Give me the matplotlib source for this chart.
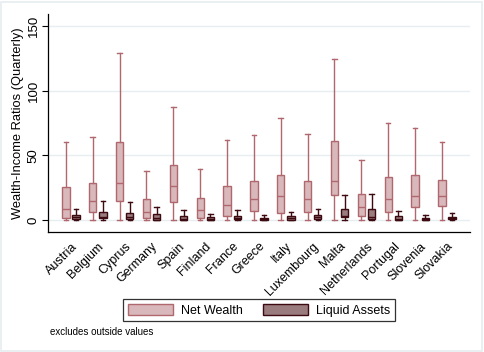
import matplotlib.pyplot as plt
from matplotlib.patches import Patch, Rectangle
import numpy as np

countries = ['Austria', 'Belgium', 'Cyprus', 'Germany', 'Spain', 'Finland', 'France', 'Greece',
             'Italy', 'Luxembourg', 'Malta', 'Netherlands', 'Portugal', 'Slovenia', 'Slovakia']

# Net wealth: lower whisker, q1, median, q3, upper whisker
nw_lo = [0, 0, 0, 0, 0, 0, 0, 0, 0, 0, 0, 0, 0, 0, 0]
nw_q1 = [1.8, 5.9, 14.5, 1.8, 13.7, 1.8, 2.8, 6.7, 5.2, 5.9, 19.1, 3.4, 5.9, 9.8, 11.1]
nw_med = [8.3, 14.5, 28.4, 5.9, 26.1, 7.5, 11.4, 16.0, 18.3, 16.0, 30.0, 9.8, 16.0, 18.3, 18.3]
nw_q3 = [25.3, 28.4, 60.2, 16.0, 42.3, 16.8, 26.1, 30.0, 34.6, 30.0, 60.9, 19.9, 33.0, 34.6, 30.7]
nw_hi = [60.2, 64.3, 129.4, 37.7, 87.3, 39.2, 61.7, 65.6, 78.7, 66.4, 124.4, 46.2, 74.9, 71.0, 60.2]

# Liquid assets
la_lo = [0, 0, 0, 0, 0, 0, 0, 0, 0, 0, 0, 0, 0, 0, 0]
la_q1 = [1.0, 1.3, 1.0, 0.0, 0.0, 0.0, 0.5, 0.0, 0.0, 1.0, 2.1, 1.0, 0.0, 0.0, 0.5]
la_med = [2.0, 2.5, 2.5, 1.2, 0.8, 0.8, 1.2, 0.5, 1.2, 2.0, 3.0, 2.6, 1.0, 0.5, 1.2]
la_q3 = [3.6, 5.9, 5.2, 4.4, 2.8, 2.1, 2.8, 1.3, 2.8, 3.6, 8.3, 8.3, 2.8, 1.3, 2.1]
la_hi = [8.8, 14.5, 13.7, 10.3, 7.5, 4.4, 7.5, 3.6, 5.9, 8.3, 19.1, 19.9, 6.7, 3.6, 5.2]

nw_face, nw_edge = '#d8b8ba', '#b0686e'
la_face, la_edge = '#9a7c7e', '#3c0a10'


def stats(lo, q1, med, q3, hi):
    return [dict(whislo=a, q1=b, med=c, q3=d, whishi=e, fliers=[])
            for a, b, c, d, e in zip(lo, q1, med, q3, hi)]


fig = plt.figure(figsize=(4.84, 3.52), dpi=100)
plt.rcParams['font.family'] = ['Liberation Sans', 'DejaVu Sans']
fig.patches.append(Rectangle((0.002, 0.002), 0.994, 0.992, transform=fig.transFigure,
                             fill=False, edgecolor='#e6eef0', linewidth=1.2))

ax = fig.add_axes([0.0992, 0.341, 0.8719, 0.619])
x = np.arange(len(countries))

for st, off, fc, ec in [(stats(nw_lo, nw_q1, nw_med, nw_q3, nw_hi), -0.19, nw_face, nw_edge),
                        (stats(la_lo, la_q1, la_med, la_q3, la_hi), 0.19, la_face, la_edge)]:
    ax.bxp(st, positions=x + off, widths=0.27, capwidths=0.17, patch_artist=True,
           showfliers=False,
           boxprops=dict(facecolor=fc, edgecolor=ec, linewidth=1.0),
           medianprops=dict(color=ec, linewidth=1.0),
           whiskerprops=dict(color=ec, linewidth=1.0),
           capprops=dict(color=ec, linewidth=1.0))

ax.set_xlim(-0.856, 14.856)
ax.set_ylim(-9.3, 159.3)
ax.set_yticks([0, 50, 100, 150])
ax.set_yticklabels(['0', '50', '100', '150'], rotation=90, va='center', fontsize=9.5)
ax.set_xticks(x)
ax.set_xticklabels(countries, rotation=45, ha='right', rotation_mode='anchor', fontsize=9)
ax.tick_params(axis='x', length=0, pad=6)
ax.tick_params(axis='y', length=4, width=0.8, pad=2)
ax.set_ylabel('Wealth-Income Ratios (Quarterly)', fontsize=9.3, labelpad=3)
ax.yaxis.grid(True, color='#e6eef0', linewidth=1.0)
ax.set_axisbelow(True)
for s in ['top', 'right']:
    ax.spines[s].set_visible(False)
for s in ['left', 'bottom']:
    ax.spines[s].set_linewidth(0.9)

handles = [Patch(facecolor=nw_face, edgecolor=nw_edge, label='Net Wealth'),
           Patch(facecolor=la_face, edgecolor=la_edge, label='Liquid Assets')]
leg = fig.legend(handles=handles, loc='center', bbox_to_anchor=(0.535, 0.119), ncol=2,
                 fontsize=9, frameon=True, fancybox=False, edgecolor='black',
                 handlelength=3.6, handleheight=1.0, columnspacing=1.6, handletextpad=0.65,
                 borderpad=0.35, borderaxespad=0)
leg.get_frame().set_linewidth(0.9)

fig.text(0.104, 0.057, 'excludes outside values', fontsize=7, ha='left', va='center')

fig.savefig('out.png', dpi=100)
